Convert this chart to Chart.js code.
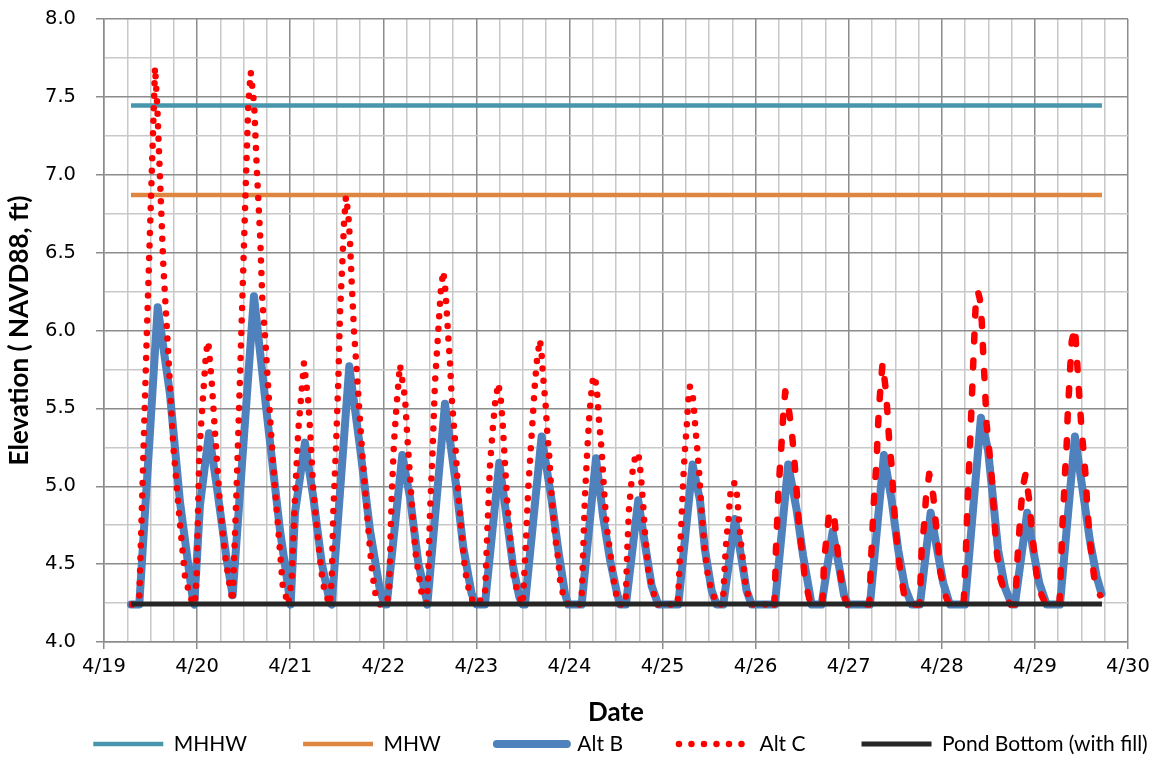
<!DOCTYPE html>
<html>
<head>
<meta charset="utf-8">
<title>Pond elevation - Alt B / Alt C</title>
<script src="https://cdn.jsdelivr.net/npm/chart.js@4.4.1/dist/chart.umd.min.js"></script>
<style>
    html, body { margin: 0; padding: 0; background: #ffffff; }
    #chartContainer { width: 1159px; height: 759px; }
</style>
</head>
<body>
<div id="chartContainer"><canvas id="elevationChart" width="1159" height="759"></canvas></div>
<script>

//---------------------------------
//Start data (x = day of April, y = elevation ft NAVD88)
const levelDays = [19.29, 29.72];
const mhhw = [7.445, 7.445];
const mhw = [6.87, 6.87];
const pondBottom = [4.244, 4.244];

const altBDays = [
    19.290, 19.379, 19.577, 19.709, 19.816, 19.959, 19.970, 20.031, 20.128, 20.211,
    20.318, 20.382, 20.611, 20.748, 20.890, 21.005, 21.052, 21.159, 21.248, 21.338,
    21.427, 21.446, 21.635, 21.750, 21.857, 21.965, 22.018, 22.037, 22.204, 22.287,
    22.376, 22.466, 22.473, 22.663, 22.788, 22.859, 22.949, 23.003, 23.092, 23.246,
    23.325, 23.396, 23.461, 23.497, 23.522, 23.701, 23.809, 23.880, 23.952, 23.987,
    24.131, 24.285, 24.363, 24.435, 24.505, 24.542, 24.607, 24.739, 24.811, 24.883,
    24.954, 25.169, 25.323, 25.402, 25.456, 25.528, 25.581, 25.652, 25.778, 25.849,
    25.903, 25.957, 26.207, 26.350, 26.440, 26.511, 26.576, 26.601, 26.709, 26.827,
    26.898, 26.950, 26.990, 27.228, 27.378, 27.461, 27.532, 27.604, 27.676, 27.765,
    27.880, 27.945, 28.015, 28.087, 28.248, 28.420, 28.497, 28.552, 28.605, 28.678,
    28.750, 28.785, 28.917, 28.982, 29.046, 29.126, 29.269, 29.430, 29.519, 29.591,
    29.663, 29.716
];
const altBElev = [
    4.24, 4.24, 6.15, 5.59, 4.90, 4.25, 4.24, 4.88, 5.34, 5.00,
    4.53, 4.30, 6.22, 5.47, 4.72, 4.24, 4.83, 5.28, 4.93, 4.51,
    4.25, 4.24, 5.77, 5.25, 4.72, 4.33, 4.24, 4.24, 5.20, 4.93,
    4.51, 4.27, 4.24, 5.53, 4.98, 4.61, 4.31, 4.24, 4.24, 5.15,
    4.80, 4.48, 4.29, 4.24, 4.24, 5.32, 4.91, 4.59, 4.31, 4.24,
    4.24, 5.18, 4.80, 4.53, 4.33, 4.24, 4.24, 4.91, 4.63, 4.36,
    4.24, 4.24, 5.14, 4.91, 4.59, 4.33, 4.24, 4.24, 4.79, 4.53,
    4.33, 4.24, 4.24, 5.14, 4.85, 4.55, 4.33, 4.24, 4.24, 4.71,
    4.48, 4.30, 4.24, 4.24, 5.20, 4.91, 4.59, 4.35, 4.24, 4.24,
    4.83, 4.61, 4.38, 4.24, 4.24, 5.44, 5.23, 4.91, 4.59, 4.35,
    4.24, 4.24, 4.83, 4.59, 4.38, 4.24, 4.24, 5.32, 4.95, 4.65,
    4.42, 4.31
];

const altCDays = [
    19.301, 19.379, 19.460, 19.548, 19.573, 19.637, 19.691, 19.744, 19.816, 19.870,
    19.931, 19.975, 19.996, 20.024, 20.067, 20.096, 20.120, 20.157, 20.192, 20.246,
    20.300, 20.353, 20.382, 20.425, 20.461, 20.496, 20.525, 20.550, 20.576, 20.613,
    20.642, 20.677, 20.701, 20.734, 20.766, 20.814, 20.867, 20.920, 20.980, 21.016,
    21.052, 21.087, 21.124, 21.148, 21.194, 21.220, 21.248, 21.302, 21.349, 21.392,
    21.427, 21.446, 21.463, 21.492, 21.517, 21.535, 21.560, 21.578, 21.599, 21.624,
    21.642, 21.660, 21.685, 21.714, 21.742, 21.779, 21.814, 21.850, 21.875, 21.911,
    21.965, 22.037, 22.064, 22.090, 22.115, 22.144, 22.179, 22.233, 22.258, 22.287,
    22.316, 22.351, 22.412, 22.466, 22.483, 22.502, 22.531, 22.555, 22.591, 22.617,
    22.644, 22.663, 22.681, 22.698, 22.716, 22.735, 22.770, 22.806, 22.842, 22.878,
    22.931, 22.985, 23.092, 23.117, 23.146, 23.175, 23.200, 23.235, 23.261, 23.283,
    23.307, 23.332, 23.368, 23.404, 23.450, 23.497, 23.504, 23.533, 23.557, 23.583,
    23.611, 23.629, 23.654, 23.683, 23.701, 23.719, 23.744, 23.761, 23.783, 23.809,
    23.844, 23.880, 23.905, 23.962, 23.990, 24.120, 24.131, 24.148, 24.166, 24.191,
    24.213, 24.238, 24.256, 24.292, 24.309, 24.320, 24.346, 24.371, 24.400, 24.443,
    24.489, 24.542, 24.600, 24.607, 24.621, 24.639, 24.668, 24.685, 24.715, 24.740,
    24.757, 24.771, 24.793, 24.811, 24.846, 24.883, 24.937, 25.160, 25.169, 25.187,
    25.205, 25.222, 25.240, 25.259, 25.276, 25.294, 25.323, 25.337, 25.348, 25.359,
    25.373, 25.394, 25.420, 25.456, 25.491, 25.528, 25.581, 25.645, 25.652, 25.670,
    25.688, 25.706, 25.724, 25.742, 25.775, 25.788, 25.802, 25.824, 25.849, 25.867,
    25.896, 25.939, 25.957, 26.200, 26.207, 26.218, 26.232, 26.243, 26.261, 26.279,
    26.296, 26.318, 26.350, 26.387, 26.411, 26.433, 26.468, 26.505, 26.529, 26.583,
    26.600, 26.715, 26.726, 26.733, 26.762, 26.790, 26.816, 26.841, 26.870, 26.898,
    26.935, 26.970, 26.990, 27.220, 27.228, 27.238, 27.252, 27.263, 27.281, 27.300,
    27.310, 27.324, 27.343, 27.364, 27.400, 27.418, 27.435, 27.461, 27.478, 27.496,
    27.521, 27.550, 27.593, 27.639, 27.760, 27.765, 27.773, 27.783, 27.811, 27.829,
    27.865, 27.908, 27.934, 27.962, 27.980, 28.044, 28.080, 28.230, 28.237, 28.259,
    28.277, 28.302, 28.323, 28.345, 28.366, 28.388, 28.409, 28.430, 28.445, 28.462,
    28.481, 28.509, 28.534, 28.552, 28.570, 28.588, 28.624, 28.678, 28.713, 28.740,
    28.785, 28.796, 28.810, 28.828, 28.846, 28.868, 28.900, 28.939, 28.964, 28.989,
    29.018, 29.072, 29.120, 29.262, 29.269, 29.287, 29.298, 29.312, 29.325, 29.341,
    29.351, 29.365, 29.380, 29.395, 29.430, 29.448, 29.465, 29.483, 29.502, 29.526,
    29.548, 29.562, 29.583, 29.609, 29.644, 29.700
];
const altCElev = [
    4.24, 4.28, 5.98, 7.69, 7.43, 6.42, 5.84, 5.26, 4.76, 4.42,
    4.28, 4.24, 4.44, 5.23, 5.60, 5.86, 5.93, 5.67, 5.35, 4.88,
    4.56, 4.35, 4.26, 5.00, 5.70, 6.40, 6.98, 7.45, 7.66, 7.45,
    7.03, 6.61, 6.19, 5.93, 5.61, 5.16, 4.76, 4.36, 4.24, 4.40,
    4.93, 5.36, 5.62, 5.79, 5.55, 5.30, 4.97, 4.64, 4.38, 4.29,
    4.24, 4.40, 4.83, 5.25, 5.68, 6.11, 6.43, 6.69, 6.86, 6.75,
    6.58, 6.32, 6.00, 5.75, 5.49, 5.17, 4.91, 4.65, 4.48, 4.32,
    4.24, 4.24, 4.35, 4.93, 5.28, 5.53, 5.78, 5.57, 5.32, 5.06,
    4.80, 4.55, 4.31, 4.25, 4.42, 4.83, 5.25, 5.66, 6.00, 6.25,
    6.38, 6.29, 6.13, 5.96, 5.80, 5.57, 5.30, 4.95, 4.70, 4.46,
    4.30, 4.24, 4.29, 4.70, 5.13, 5.36, 5.53, 5.66, 5.57, 5.40,
    5.15, 4.89, 4.63, 4.40, 4.31, 4.24, 4.31, 4.65, 4.98, 5.23,
    5.49, 5.66, 5.83, 5.94, 5.85, 5.69, 5.52, 5.35, 5.19, 4.93,
    4.68, 4.53, 4.35, 4.27, 4.24, 4.24, 4.29, 4.59, 4.93, 5.23,
    5.45, 5.62, 5.71, 5.65, 5.49, 5.40, 5.23, 4.98, 4.74, 4.55,
    4.33, 4.24, 4.24, 4.31, 4.59, 4.85, 5.04, 5.13, 5.21, 5.21,
    5.13, 5.04, 4.87, 4.70, 4.46, 4.36, 4.24, 4.24, 4.31, 4.55,
    4.80, 5.04, 5.23, 5.38, 5.55, 5.64, 5.59, 5.50, 5.41, 5.33,
    5.24, 5.08, 4.83, 4.57, 4.41, 4.33, 4.24, 4.24, 4.29, 4.51,
    4.68, 4.76, 4.93, 5.01, 5.02, 5.01, 4.93, 4.76, 4.59, 4.51,
    4.34, 4.27, 4.24, 4.24, 4.32, 4.59, 4.78, 4.95, 5.12, 5.28,
    5.45, 5.61, 5.52, 5.36, 5.20, 5.04, 4.72, 4.55, 4.40, 4.26,
    4.24, 4.24, 4.33, 4.51, 4.67, 4.83, 4.84, 4.82, 4.65, 4.48,
    4.34, 4.26, 4.24, 4.24, 4.33, 4.51, 4.67, 4.83, 5.01, 5.16,
    5.33, 5.49, 5.65, 5.79, 5.61, 5.45, 5.29, 5.13, 4.95, 4.79,
    4.62, 4.47, 4.31, 4.24, 4.24, 4.28, 4.42, 4.59, 4.76, 4.92,
    5.08, 4.94, 4.77, 4.61, 4.46, 4.29, 4.24, 4.24, 4.28, 4.59,
    4.91, 5.25, 5.57, 5.90, 6.20, 6.25, 6.20, 6.05, 5.85, 5.65,
    5.40, 5.23, 5.07, 4.91, 4.74, 4.59, 4.42, 4.31, 4.26, 4.24,
    4.24, 4.33, 4.51, 4.67, 4.83, 4.99, 5.08, 4.91, 4.74, 4.59,
    4.43, 4.30, 4.24, 4.24, 4.30, 4.61, 4.78, 4.93, 5.10, 5.26,
    5.44, 5.60, 5.77, 5.93, 6.02, 5.85, 5.69, 5.52, 5.36, 5.20,
    5.04, 4.87, 4.71, 4.55, 4.38, 4.30
];

const yTickStep = 0.5;
const xTickStep = 1;
const monthLabel = '4/';
//End data
//---------------------------------


//---------------------------------
//Start helpers
function toPoints(days, values) {
    return days.map((d, i) => ({ x: d, y: values[i] }));
}

function isMajor(value, step) {
    return Math.abs(value / step - Math.round(value / step)) < 1e-6;
}

const majorGrid = '#8c8c8c';
const minorGrid = '#c8c8c8';
const tickFont = { family: 'DejaVu Sans', size: 19.5 };
const titleFont = { family: 'Lato', size: 26, weight: 'bold' };
const legendFontSize = 21;
const legendCenterX = 620.5;
const legendCenterY = 744;

// legend sits on one row, centred under the plot area like the spreadsheet does
const legendPlacer = {
    id: 'legendPlacer',
    afterLayout(chart) {
        const legend = chart.legend;
        legend.maxWidth = 4000;
        legend.fit();
        legend.left = legendCenterX - 1500;
        legend.right = legendCenterX + 1500;
        legend.top = legendCenterY - legend.options.labels.padding - legendFontSize / 2;
        legend.bottom = chart.height;
    }
};

// legend samples keep the dash / cap of their line
function legendLabels(chart) {
    return Chart.defaults.plugins.legend.labels.generateLabels(chart).map((item) => {
        const ds = chart.data.datasets[item.datasetIndex];
        item.lineDash = ds.borderDash || [];
        item.lineCap = ds.borderCapStyle || 'butt';
        item.lineWidth = ds.borderWidth;
        item.pointStyle = 'line';
        return item;
    });
}
//End helpers
//---------------------------------


//---------------------------------
//Start chart
const ctx = document.getElementById('elevationChart');

const elevationChart = new Chart(ctx, {
    type: 'line',
    data: {
        datasets: [
            {
                label: 'MHHW',
                data: toPoints(levelDays, mhhw),
                borderColor: '#4796ae',
                borderWidth: 4.5,
                order: 4
            },
            {
                label: 'MHW',
                data: toPoints(levelDays, mhw),
                borderColor: '#de853f',
                borderWidth: 4.5,
                order: 3
            },
            {
                label: 'Alt B',
                data: toPoints(altBDays, altBElev),
                borderColor: '#4f81bd',
                borderWidth: 8,
                borderJoinStyle: 'round',
                borderCapStyle: 'round',
                order: 2
            },
            {
                label: 'Alt C',
                data: toPoints(altCDays, altCElev),
                borderColor: '#ff0000',
                borderWidth: 6.5,
                borderDash: [0, 12.5],
                borderCapStyle: 'round',
                borderJoinStyle: 'round',
                segment: {
                    borderDash: (c) => c.p0.parsed.x > 26.1 ? [7, 19] : [0, 12.5]
                },
                order: 1
            },
            {
                label: 'Pond Bottom (with fill)',
                data: toPoints(levelDays, pondBottom),
                borderColor: '#262626',
                borderWidth: 5,
                order: 0
            }
        ]
    },
    options: {
        responsive: false,
        animation: false,
        events: [],
        layout: {
            padding: 0
        },
        elements: {
            point: { radius: 0, hoverRadius: 0, pointStyle: 'line' },
            line: { tension: 0, fill: false }
        },
        plugins: {
            tooltip: { enabled: false },
            legend: {
                position: 'bottom',
                maxHeight: 36,
                labels: {
                    sort: (a, b) => a.datasetIndex - b.datasetIndex,
                    generateLabels: legendLabels,
                    usePointStyle: true,
                    pointStyleWidth: 70,
                    padding: 56,
                    color: '#000000',
                    font: { family: 'Lato', size: legendFontSize }
                }
            }
        },
        scales: {
            x: {
                type: 'linear',
                min: 19,
                max: 30,
                afterFit(scale) {
                    scale.height = 759 - 642 - 36;
                    scale.paddingLeft = 0;
                    scale.paddingRight = 31;
                },
                ticks: {
                    stepSize: 0.25,
                    autoSkip: false,
                    maxRotation: 0,
                    padding: 6,
                    color: '#000000',
                    font: tickFont,
                    callback: (v) => isMajor(v, xTickStep) ? monthLabel + Math.round(v) : ''
                },
                grid: {
                    color: (c) => isMajor(c.tick.value, xTickStep) ? majorGrid : minorGrid,
                    lineWidth: 1.5,
                    tickLength: 7,
                    tickColor: (c) => isMajor(c.tick.value, xTickStep) ? majorGrid : 'rgba(0,0,0,0)'
                },
                border: { color: majorGrid, width: 1.5 },
                title: {
                    display: true,
                    text: 'Date',
                    color: '#000000',
                    font: titleFont,
                    padding: { top: 0, bottom: -5 }
                }
            },
            y: {
                min: 4,
                max: 8,
                afterFit(scale) {
                    scale.width = 104;
                    scale.paddingTop = 19;
                    scale.paddingBottom = 0;
                },
                ticks: {
                    stepSize: 0.25,
                    autoSkip: false,
                    padding: 20,
                    color: '#000000',
                    font: tickFont,
                    callback: (v) => isMajor(v, yTickStep) ? v.toFixed(1) : ''
                },
                grid: {
                    color: (c) => isMajor(c.tick.value, yTickStep) ? majorGrid : minorGrid,
                    lineWidth: 1.5,
                    tickLength: 8,
                    tickColor: (c) => isMajor(c.tick.value, yTickStep) ? majorGrid : 'rgba(0,0,0,0)'
                },
                border: { color: majorGrid, width: 1.5 },
                title: {
                    display: true,
                    text: 'Elevation ( NAVD88, ft)',
                    color: '#000000',
                    font: titleFont,
                    padding: { top: 4, bottom: 0 }
                }
            }
        }
    },
    plugins: [legendPlacer]
});
//End chart
//---------------------------------

</script>
</body>
</html>
